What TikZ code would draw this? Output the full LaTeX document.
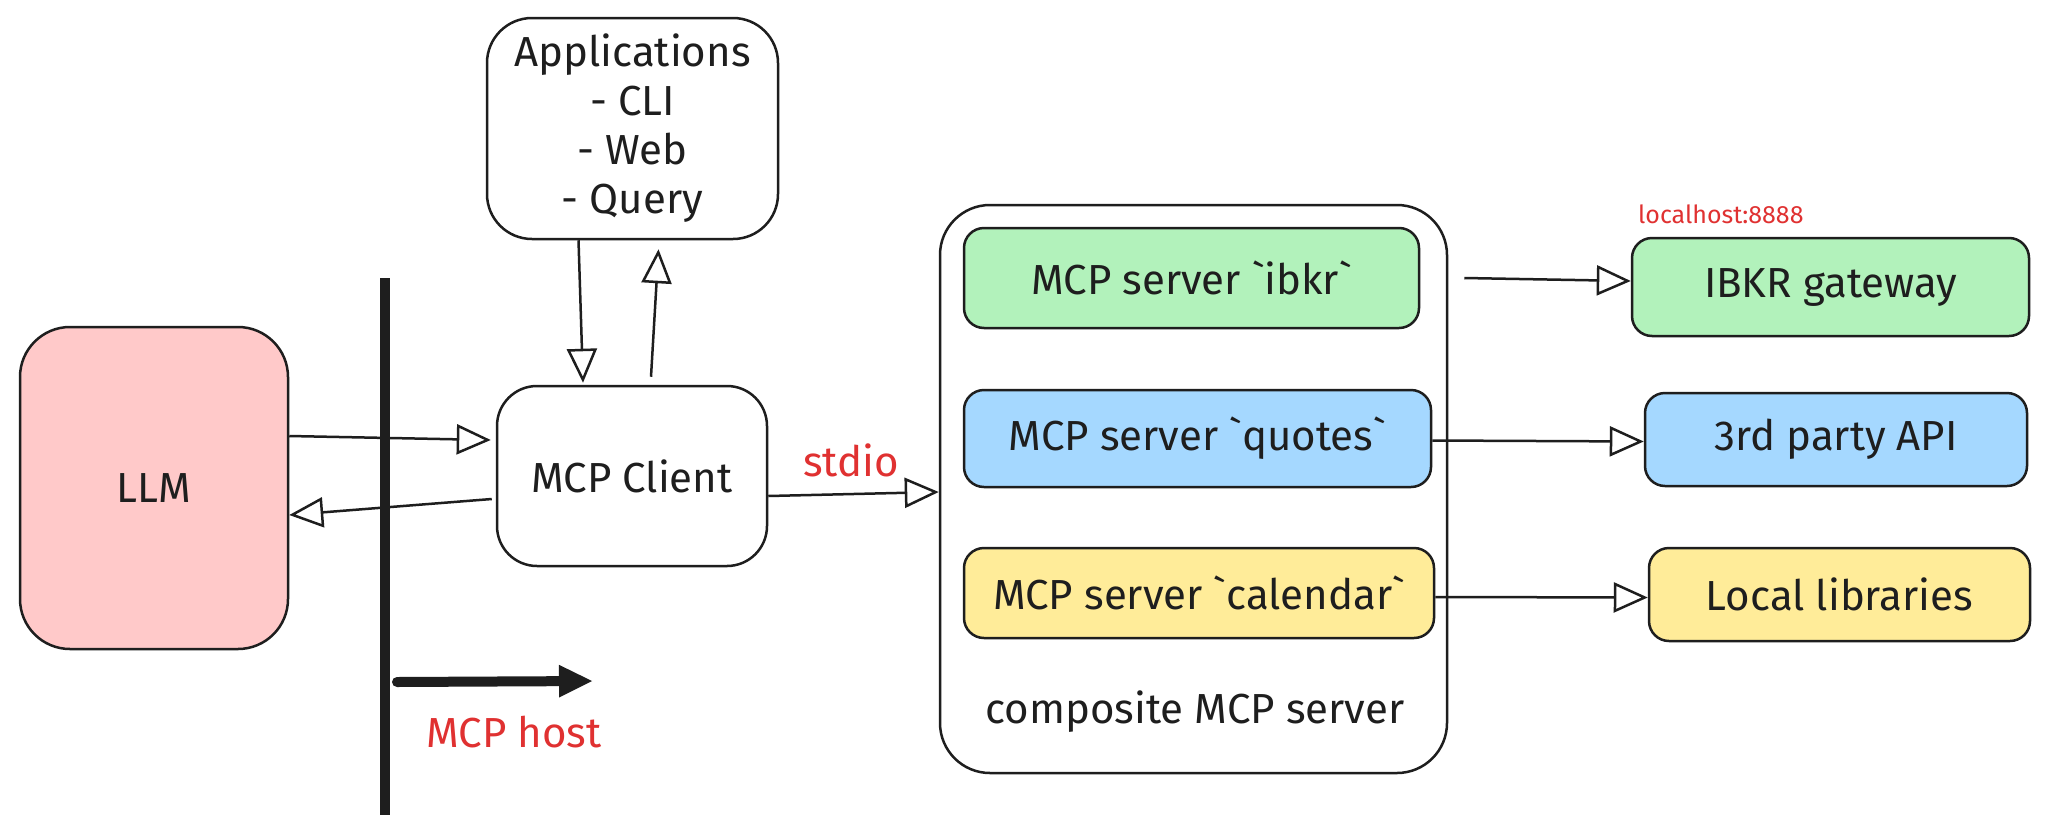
\documentclass[tikz,border=0pt]{standalone}
\usepackage{fontspec}
\setmainfont{Fira Sans}[Ligatures=TeXOff]
\usetikzlibrary{arrows.meta,calc}
\definecolor{ink}{HTML}{1E1E1E}
\definecolor{llmfill}{HTML}{FFC9C9}
\definecolor{greenfill}{HTML}{B2F2BB}
\definecolor{bluefill}{HTML}{A5D8FF}
\definecolor{yellowfill}{HTML}{FFEC99}
\definecolor{redtext}{HTML}{E03131}
\newcommand{\bqt}{\symbol{96}}
\tikzset{
  lbl/.style={font=\fontsize{42}{49}\selectfont, text=ink},
  redlbl/.style={font=\fontsize{42}{49}\selectfont, text=redtext, inner sep=0pt},
  box/.style={draw=ink, line width=2.5pt, inner sep=0pt, lbl, align=center},
  conn/.style={draw=ink, line width=2.5pt, -{Triangle[open, length=34pt, width=30pt]}},
}
\begin{document}
\begin{tikzpicture}[x=1pt, y=-1pt]
\useasboundingbox (0,0) rectangle (2050,836);
\fill[white] (0,0) rectangle (2050,836);

% boxes
\node[box, fill=llmfill, rounded corners=50pt, minimum width=268pt, minimum height=322pt] (llm) at (154,488) {LLM};
\node[box, fill=white, rounded corners=45pt, minimum width=291pt, minimum height=221pt] (apps) at (632.5,128.5) {Applications\\- CLI\\- Web\\- Query};
\node[box, fill=white, rounded corners=40pt, minimum width=270pt, minimum height=180pt] (client) at (632,476) {MCP Client};
\node[box, fill=white, rounded corners=50pt, minimum width=507pt, minimum height=568pt] (comp) at (1193.5,489) {};
\node[box, fill=greenfill, rounded corners=20pt, minimum width=455pt, minimum height=100pt] (ibkr) at (1191.5,278) {MCP server \bqt ibkr\bqt};
\node[box, fill=bluefill, rounded corners=20pt, minimum width=467pt, minimum height=97pt] (quotes) at (1197.5,438.5) {MCP server \bqt quotes\bqt};
\node[box, fill=yellowfill, rounded corners=20pt, minimum width=470pt, minimum height=90pt] (cal) at (1199,593) {MCP server \bqt calendar\bqt};
\node[lbl, anchor=base] (comptxt) at (1195,723) {composite MCP server};
\node[box, fill=greenfill, rounded corners=20pt, minimum width=397pt, minimum height=98pt] (gw) at (1830.5,287) {IBKR gateway};
\node[box, fill=bluefill, rounded corners=20pt, minimum width=382pt, minimum height=93pt] (api) at (1836,439.5) {3rd party API};
\node[box, fill=yellowfill, rounded corners=20pt, minimum width=381pt, minimum height=93pt] (lib) at (1839.5,594.5) {Local libraries};

% red labels
\node[redlbl, anchor=base] (stdio) at (851,476) {stdio};
\node[redlbl, anchor=base] (host) at (514,747) {MCP host};
\node[redlbl, font=\fontsize{25}{30}\selectfont, anchor=base west] (lh) at (1638,223) {localhost:8888};

% host boundary
\coordinate (v1) at (385,278);
\coordinate (v2) at (385,815);
\draw[ink, line width=10pt] (v1) -- (v2);
\coordinate (h1) at (397,682);
\coordinate (h2) at (593,681);
\draw[ink, line width=10pt, line cap=round, -{Triangle[length=34pt, width=30pt]}] (h1) -- (h2);

% connectors
\draw[conn] ([yshift=52pt]llm.east) -- ([xshift=-5pt,yshift=36pt]client.west);
\draw[conn] ([xshift=-4pt,yshift=-23pt]client.west) -- ([yshift=-27pt]llm.east);
\draw[conn] ([xshift=-54pt]apps.south) -- ([xshift=-49pt,yshift=2pt]client.north);
\draw[conn] ([xshift=19pt,yshift=8pt]client.north) -- ([xshift=26pt,yshift=-9pt]apps.south);
\draw[conn] ([yshift=-20pt]client.east) -- ([yshift=-3pt]comp.west);
\draw[conn] ([xshift=44pt]ibkr.east) -- ([yshift=6pt]gw.west);
\draw[conn] ([yshift=-2pt]quotes.east) -- ([yshift=-2pt]api.west);
\draw[conn] ([yshift=-4pt]cal.east) -- ([yshift=-3pt]lib.west);
\end{tikzpicture}
\end{document}
